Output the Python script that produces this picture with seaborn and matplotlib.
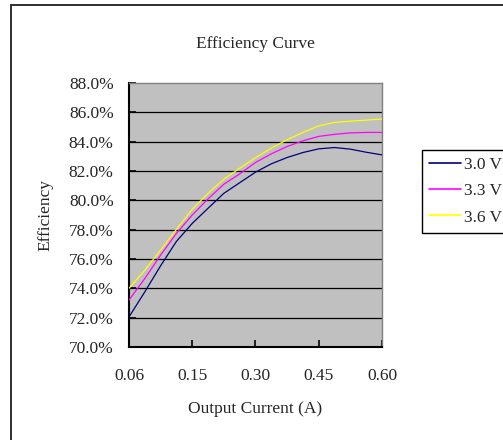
import matplotlib
matplotlib.use("Agg")
import matplotlib.pyplot as plt
import seaborn as sns
import pandas as pd
from matplotlib.patches import Rectangle
from matplotlib.lines import Line2D

# category positions along the x axis (0..4 correspond to tick labels)
x_pos = [0, 0.25, 0.5, 0.75, 1.0, 1.25, 1.5, 1.75, 2.0, 2.25, 2.5, 2.75, 3.0, 3.25, 3.5, 3.75, 4.0]
tick_labels = ["0.06", "0.15", "0.30", "0.45", "0.60"]
series_names = ["3.0 V", "3.3 V", "3.6 V"]
eff_30 = [72.05, 73.76, 75.54, 77.2, 78.43, 79.46, 80.48, 81.2, 81.92, 82.49, 82.92, 83.26, 83.51, 83.6, 83.49, 83.28, 83.1]
eff_33 = [73.2, 74.67, 76.27, 77.75, 79.0, 80.1, 81.1, 81.8, 82.58, 83.17, 83.67, 84.06, 84.36, 84.5, 84.6, 84.63, 84.63]
eff_36 = [74.0, 75.24, 76.6, 78.02, 79.39, 80.48, 81.44, 82.19, 82.9, 83.56, 84.13, 84.63, 85.08, 85.31, 85.4, 85.47, 85.54]
colors = ["#000080", "#FF00FF", "#FFFF00"]

rows = []
for name, vals in zip(series_names, [eff_30, eff_33, eff_36]):
    for xv, v in zip(x_pos, vals):
        rows.append({"x": xv, "eff": v, "series": name})
df = pd.DataFrame(rows)

sns.set_style("ticks")
plt.rcParams["font.family"] = ["Liberation Serif", "DejaVu Serif"]
plt.rcParams["font.size"] = 12.5

fig = plt.figure(figsize=(5.03, 4.40), dpi=100)
ax = fig.add_axes([129/503, 1-347/440, (382-129)/503, (347-83)/440])
ax.set_facecolor("#C0C0C0")

for y in range(72, 88, 2):
    ax.axhline(y, color="black", lw=0.9, zorder=1)

sns.lineplot(data=df, x="x", y="eff", hue="series", palette=colors, ax=ax,
             lw=0.9, zorder=3, legend=False, sort=False)

ax.set_xlim(0, 4)
ax.set_ylim(70, 88)
ax.set_xticks(range(len(tick_labels)))
ax.set_xticklabels(tick_labels)
yt = list(range(70, 90, 2))
ax.set_yticks(yt)
ax.set_yticklabels([f"{v:.1f}%" for v in yt])
ax.tick_params(axis="both", direction="in", length=5, width=1.2, color="black", labelsize=12.5)
ax.tick_params(axis="y", pad=11)
ax.tick_params(axis="x", pad=15)

for s in ["top", "right"]:
    ax.spines[s].set_color("#808080")
    ax.spines[s].set_linewidth(1.0)
    ax.spines[s].set_visible(True)
for s in ["left", "bottom"]:
    ax.spines[s].set_color("black")
    ax.spines[s].set_linewidth(1.5)

ax.set_xlabel("Output Current (A)", fontsize=12.5, labelpad=12)
ax.set_ylabel("Efficiency", fontsize=12.5, labelpad=11)
ax.set_title("Efficiency Curve", fontsize=12.5, pad=25)

handles = [Line2D([], [], color=c, lw=1.2) for c in colors]
leg = fig.legend(handles, series_names, loc="upper left",
                 bbox_to_anchor=(422/503, 1-150/440), frameon=True, fancybox=False,
                 edgecolor="black", framealpha=1, fontsize=12.5,
                 handlelength=1.8, handletextpad=0.2, labelspacing=0.57,
                 borderpad=0.42, borderaxespad=0)
leg.get_frame().set_linewidth(1.0)

fig.patches.append(Rectangle((11/503, -0.1), 1.2, 1-5/440+0.1, transform=fig.transFigure,
                             fill=False, edgecolor="#202020", lw=1.3, clip_on=False))

fig.savefig("out.png", dpi=100)
